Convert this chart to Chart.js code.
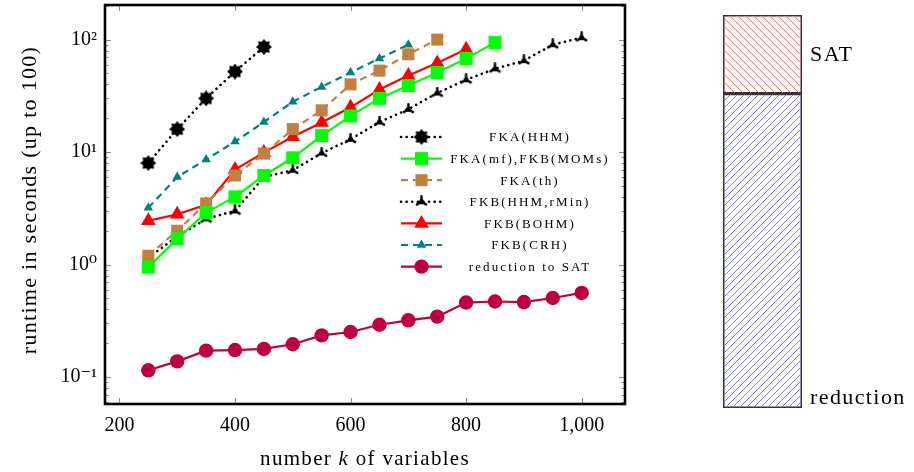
<!DOCTYPE html>
<html>
<head>
<meta charset="utf-8">
<script src="https://cdn.jsdelivr.net/npm/chart.js@4.4.0/dist/chart.umd.min.js"></script>
<style>
  html, body { margin: 0; padding: 0; background: #fff; }
  #wrap { position: relative; width: 914px; height: 472px; }
  #chart-1 { position: absolute; left: 0; top: 0; }
  #chart-2 { position: absolute; left: 650px; top: 0; }
</style>
</head>
<body>
<div id="wrap">
  <canvas id="chart-1" width="650" height="472"></canvas>
  <canvas id="chart-2" width="264" height="472"></canvas>
</div>
<script>
// number k of variables
const kValues = [250, 300, 350, 400, 450, 500, 550, 600, 650, 700, 750, 800, 850, 900, 950, 1000];

// runtime in seconds, one list per solver
const fkaHHM = [8, 16, 30, 52, 86];
const fkaMfMoms = [0.95, 1.7, 2.9, 4.0, 6.2, 8.9, 14, 21, 30, 39, 51, 68, 94];
const fkaTh = [1.2, 2.0, 3.5, 6.2, 9.7, 16, 23.5, 40, 53, 74, 100];
const fkbHHMrMin = [1.15, 1.78, 2.55, 3.0, 6.0, 6.9, 9.8, 13, 18.5, 24, 33.5, 44, 55, 65, 90, 104];
const fkbBOHM = [2.45, 2.8, 3.4, 7.0, 9.9, 13.7, 18.3, 25, 36, 48, 62, 82];
const fkbCRH = [3.2, 6.0, 8.6, 12.4, 18.5, 28, 38, 51, 68, 90];
const reductionSAT = [0.115, 0.138, 0.172, 0.174, 0.178, 0.196, 0.235, 0.252, 0.292, 0.32, 0.345, 0.46, 0.47, 0.465, 0.505, 0.56];

const xTicks = [200, 400, 600, 800, 1000];
const yTicks = [0.1, 1, 10, 100];
const yTickLabels = ['10\u207B\u00B9', '10\u2070', '10\u00B9', '10\u00B2'];

// share of the runtime (right bar)
const barCats = ['runtime'];
const reductionShare = [80];
const satShare = [20];

const SERIF = '"Liberation Serif", "DejaVu Serif", serif';

function pts(vals) {
  return vals.map((v, i) => ({ x: kValues[i], y: v }));
}

// marker pictures
function starMark(size, color) {
  const c = document.createElement('canvas');
  c.width = c.height = size;
  const g = c.getContext('2d');
  g.fillStyle = color;
  g.beginPath();
  const R = size / 2, r = R * 0.72;
  for (let i = 0; i < 16; i++) {
    const a = i * Math.PI / 8 - Math.PI / 2;
    const rr = i % 2 ? r : R;
    g.lineTo(R + Math.cos(a) * rr, R + Math.sin(a) * rr);
  }
  g.closePath();
  g.fill();
  return c;
}

function triStar(size, color) {
  const c = document.createElement('canvas');
  c.width = c.height = size;
  const g = c.getContext('2d');
  const m = size / 2;
  g.strokeStyle = color;
  g.fillStyle = color;
  g.lineWidth = 2.4;
  g.lineCap = 'round';
  g.beginPath();
  [-90, 30, 150].forEach(d => {
    const a = d * Math.PI / 180;
    g.moveTo(m, m);
    g.lineTo(m + Math.cos(a) * (m - 1.2), m + Math.sin(a) * (m - 1.2));
  });
  g.stroke();
  g.beginPath();
  g.arc(m, m, 2.6, 0, Math.PI * 2);
  g.fill();
  return c;
}

const ds = [
  { label: 'FKA(HHM)', data: pts(fkaHHM), borderColor: '#000', backgroundColor: '#000',
    borderWidth: 2.6, borderDash: [0.1, 5.5], borderCapStyle: 'round',
    pointStyle: starMark(16, '#000'), pointRadius: 8 },
  { label: 'FKA(mf),FKB(MOMs)', data: pts(fkaMfMoms), borderColor: '#00ff00', backgroundColor: '#00ff00',
    borderWidth: 2.2, pointStyle: 'rect', pointRadius: 9.2, pointBorderWidth: 0 },
  { label: 'FKA(th)', data: pts(fkaTh), borderColor: '#bf8040', backgroundColor: '#bf8040',
    borderWidth: 2.2, borderDash: [7, 5], pointStyle: 'rect', pointRadius: 8.5, pointBorderWidth: 0 },
  { label: 'FKB(HHM,rMin)', data: pts(fkbHHMrMin), borderColor: '#000', backgroundColor: '#000',
    borderWidth: 2.6, borderDash: [0.1, 5.5], borderCapStyle: 'round',
    pointStyle: triStar(13, '#000'), pointRadius: 6.5 },
  { label: 'FKB(BOHM)', data: pts(fkbBOHM), borderColor: '#ff0000', backgroundColor: '#ff0000',
    borderWidth: 2.2, pointStyle: 'triangle', pointRadius: 8.5, pointBorderWidth: 0 },
  { label: 'FKB(CRH)', data: pts(fkbCRH), borderColor: '#008080', backgroundColor: '#008080',
    borderWidth: 2.2, borderDash: [7, 5], pointStyle: 'triangle', pointRadius: 5.5, pointBorderWidth: 0 },
  { label: 'reduction to SAT', data: pts(reductionSAT), borderColor: '#bf0040', backgroundColor: '#bf0040',
    borderWidth: 2.2, pointStyle: 'circle', pointRadius: 7.2, pointBorderWidth: 0 },
];
ds.forEach(d => { d.fill = false; d.tension = 0; d.pointHoverRadius = d.pointRadius; });

// inward ticks, frame, legend and axis titles in pgfplots style
const pgfFrame = {
  id: 'pgfFrame',
  beforeDatasetsDraw(chart) {
    const { ctx, chartArea: a, scales: { x, y } } = chart;
    ctx.save();
    ctx.strokeStyle = '#8a8a8a';
    ctx.lineWidth = 1;
    ctx.beginPath();
    xTicks.forEach(v => {
      const px = Math.round(x.getPixelForValue(v)) + 0.5;
      ctx.moveTo(px, a.top); ctx.lineTo(px, a.top + 6);
      ctx.moveTo(px, a.bottom); ctx.lineTo(px, a.bottom - 6);
    });
    for (let e = -2; e <= 2; e++) {
      for (let m = 1; m <= 9; m++) {
        const v = m * Math.pow(10, e);
        if (v < y.min || v > y.max) continue;
        const py = Math.round(y.getPixelForValue(v)) + 0.5;
        const len = m === 1 ? 6 : 3.5;
        ctx.moveTo(a.left, py); ctx.lineTo(a.left + len, py);
        ctx.moveTo(a.right, py); ctx.lineTo(a.right - len, py);
      }
    }
    ctx.stroke();
    ctx.restore();
  },
  afterDatasetsDraw(chart) {
    const { ctx, chartArea: a } = chart;
    ctx.save();
    ctx.strokeStyle = '#000';
    ctx.lineWidth = 2.6;
    ctx.strokeRect(a.left, a.top, a.right - a.left, a.bottom - a.top);

    // legend
    const lx0 = 401, lx1 = 442, textX = 530, y0 = 137, dy = 21.6;
    ctx.font = '13px ' + SERIF;
    ctx.letterSpacing = '2.1px';
    ctx.textAlign = 'center';
    ctx.textBaseline = 'middle';
    chart.data.datasets.forEach((d, i) => {
      const yy = y0 + i * dy;
      ctx.save();
      ctx.strokeStyle = d.borderColor;
      ctx.lineWidth = d.borderWidth;
      ctx.lineCap = d.borderCapStyle || 'butt';
      ctx.setLineDash(d.borderDash || []);
      ctx.beginPath();
      ctx.moveTo(lx0, yy); ctx.lineTo(lx1, yy);
      ctx.stroke();
      ctx.setLineDash([]);
      ctx.fillStyle = d.backgroundColor;
      ctx.strokeStyle = d.borderColor;
      Chart.helpers.drawPoint(ctx, { pointStyle: d.pointStyle, radius: d.pointRadius, rotation: 0, borderWidth: 0 },
        (lx0 + lx1) / 2, yy);
      ctx.restore();
      ctx.fillStyle = '#000';
      ctx.fillText(d.label, textX, yy + 1);
    });

    // axis titles
    ctx.letterSpacing = '1.3px';
    ctx.fillStyle = '#000';
    ctx.font = '22px ' + SERIF;
    ctx.textBaseline = 'middle';
    ctx.save();
    ctx.translate(30, 200);
    ctx.rotate(-Math.PI / 2);
    ctx.textAlign = 'center';
    ctx.fillText('runtime in seconds (up to 100)', 0, 0);
    ctx.restore();

    const parts = [['number ', '21px ' + SERIF], ['k', 'italic 21px ' + SERIF], [' of variables', '21px ' + SERIF]];
    let total = 0;
    parts.forEach(p => { ctx.font = p[1]; total += ctx.measureText(p[0]).width; });
    let cx = 365 - total / 2;
    ctx.textAlign = 'left';
    parts.forEach(p => {
      ctx.font = p[1];
      ctx.fillText(p[0], cx, 459);
      cx += ctx.measureText(p[0]).width;
    });
    ctx.restore();
  }
};

new Chart(document.getElementById('chart-1'), {
  type: 'line',
  data: { datasets: ds },
  options: {
    responsive: false,
    animation: false,
    layout: { autoPadding: false, padding: { top: 5, right: 25, left: 0, bottom: 0 } },
    plugins: { legend: { display: false }, tooltip: { enabled: false } },
    scales: {
      x: {
        type: 'linear', min: 175, max: 1075,
        grid: { display: false, drawTicks: false },
        border: { display: false },
        afterBuildTicks: s => { s.ticks = xTicks.map(v => ({ value: v })); },
        afterFit: s => { s.height = 68; s.paddingLeft = 0; s.paddingRight = 0; },
        ticks: {
          color: '#000', padding: 10, maxRotation: 0, autoSkip: false,
          font: { family: SERIF, size: 20 },
          callback: v => v.toLocaleString('en-US'),
        },
      },
      y: {
        type: 'logarithmic', min: 0.0577, max: 203,
        grid: { display: false, drawTicks: false },
        border: { display: false },
        afterBuildTicks: s => { s.ticks = yTicks.map(v => ({ value: v })); },
        afterFit: s => { s.width = 105; s.paddingTop = 0; s.paddingBottom = 0; },
        ticks: {
          color: '#000', padding: 8, autoSkip: false,
          font: { family: SERIF, size: 20 },
          callback: v => yTickLabels[yTicks.findIndex(t => Math.abs(Math.log10(t) - Math.log10(v)) < 1e-6)],
        },
      },
    },
  },
  plugins: [pgfFrame],
});

// right bar: share of reduction vs SAT
const ctx2 = document.getElementById('chart-2').getContext('2d');
function hatch(color, step, rising) {
  const c = document.createElement('canvas');
  c.width = c.height = step;
  const g = c.getContext('2d');
  g.strokeStyle = color;
  g.lineWidth = 1;
  g.beginPath();
  for (let o = -step; o <= step; o += step) {
    if (rising) { g.moveTo(o, step); g.lineTo(o + step, 0); }
    else { g.moveTo(o, 0); g.lineTo(o + step, step); }
  }
  g.stroke();
  return ctx2.createPattern(c, 'repeat');
}

const barLabels = {
  id: 'barLabels',
  afterDatasetsDraw(chart) {
    const { ctx } = chart;
    ctx.save();
    ctx.fillStyle = '#000';
    ctx.font = '22px ' + SERIF;
    ctx.letterSpacing = '1.4px';
    ctx.textAlign = 'left';
    ctx.textBaseline = 'middle';
    const red = chart.getDatasetMeta(0).data[0];
    const sat = chart.getDatasetMeta(1).data[0];
    const x = sat.x + sat.width / 2 + 8;
    ctx.fillText('SAT', x, (sat.y + sat.base) / 2 + 1);
    ctx.fillText('reduction', x, red.base - 10);
    ctx.restore();
  }
};

new Chart(ctx2, {
  type: 'bar',
  data: {
    labels: barCats,
    datasets: [
      { label: 'reduction', data: reductionShare, backgroundColor: hatch('#7a7aff', 7, true),
        borderColor: '#333', borderWidth: 1.2, borderSkipped: false, barPercentage: 1, categoryPercentage: 1 },
      { label: 'SAT', data: satShare, backgroundColor: hatch('#ff7a7a', 8, false),
        borderColor: '#333', borderWidth: 1.2, borderSkipped: false, barPercentage: 1, categoryPercentage: 1 },
    ],
  },
  options: {
    responsive: false,
    animation: false,
    layout: { autoPadding: false, padding: { top: 15, bottom: 64, left: 73, right: 112 } },
    plugins: { legend: { display: false }, tooltip: { enabled: false } },
    scales: {
      x: { stacked: true, display: false },
      y: { stacked: true, display: false, min: 0, max: 100 },
    },
  },
  plugins: [barLabels],
});
</script>
</body>
</html>
